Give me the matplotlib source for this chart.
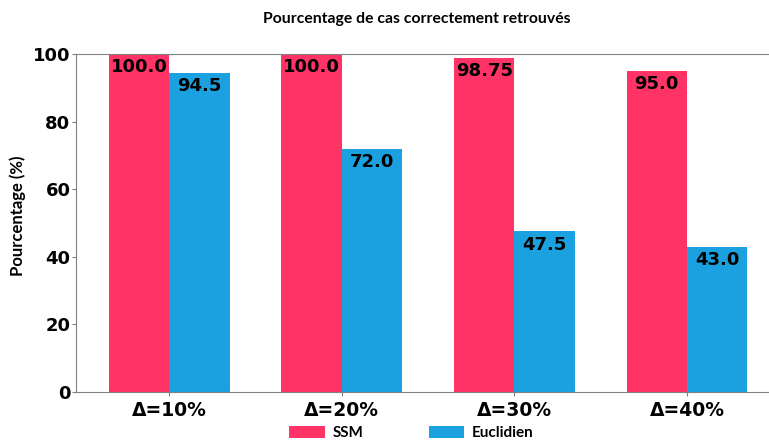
import matplotlib.pyplot as plt
import numpy as np

categories = ["Δ=10%", "Δ=20%", "Δ=30%", "Δ=40%"]
ssm = [100.0, 100.0, 98.75, 95.0]
euclidien = [94.5, 72.0, 47.5, 43.0]
ssm_labels = ["100.0", "100.0", "98.75", "95.0"]
euc_labels = ["94.5", "72.0", "47.5", "43.0"]

pink = "#ff3366"
blue = "#1ba1e0"

fig = plt.figure(figsize=(7.69, 4.41), dpi=100)
ax = fig.add_axes([0.0988, 0.111, 0.9, 0.7667])

x = np.arange(len(categories))
w = 0.35
b1 = ax.bar(x - w / 2, ssm, w, color=pink, label="SSM")
b2 = ax.bar(x + w / 2, euclidien, w, color=blue, label="Euclidien")

# values written just inside the top of each bar
for bars, labels in [(b1, ssm_labels), (b2, euc_labels)]:
    for rect, txt in zip(bars, labels):
        ax.annotate(txt, (rect.get_x() + rect.get_width() / 2, rect.get_height()),
                    xytext=(0, -3), textcoords="offset points",
                    ha="center", va="top", fontsize=13, fontweight="bold")

ax.set_xlim(-0.54, 3.47)
ax.set_ylim(0, 100)
ax.set_xticks(x)
ax.set_xticklabels(categories, fontsize=13.5, fontweight="bold")
ax.set_yticks(range(0, 101, 20))
ax.tick_params(axis="y", labelsize=13, colors="#808080", labelcolor="black", length=3, pad=1)
ax.tick_params(axis="x", colors="#808080", labelcolor="black", length=3)
for lbl in ax.get_yticklabels():
    lbl.set_fontweight("bold")

ax.spines["right"].set_visible(False)
for s in ["left", "top", "bottom"]:
    ax.spines[s].set_color("#808080")

ax.set_ylabel("Pourcentage (%)", family="Lato", fontsize=12, fontweight="bold")
ax.yaxis.set_label_coords(-0.072, 0.52)
fig.text(0.542, 1 - 19 / 441, "Pourcentage de cas correctement retrouvés",
         family="Lato", fontsize=11.3, fontweight="bold", ha="center", va="center")

fig.legend(loc="center", bbox_to_anchor=(0.535, 1 - 433 / 441), ncol=2, frameon=False,
           prop={"family": "Lato", "weight": "bold", "size": 11},
           handlelength=2.3, handleheight=0.9, columnspacing=4.3, handletextpad=0.5)

fig.savefig("out.png", dpi=100)
